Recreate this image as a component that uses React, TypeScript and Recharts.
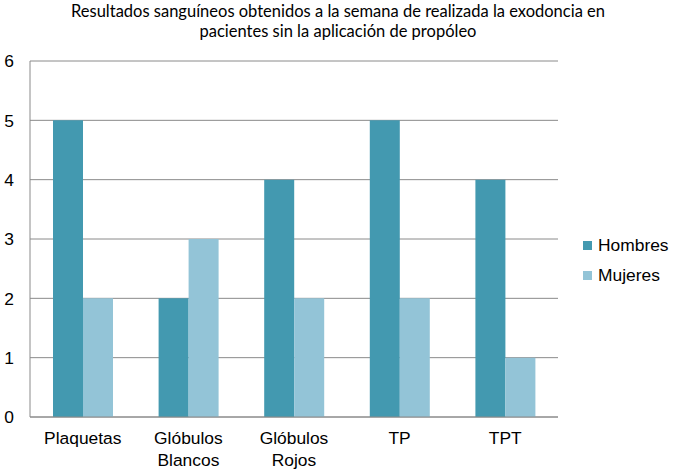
import { BarChart, Bar, XAxis, YAxis, CartesianGrid } from 'recharts'

const categories = ['Plaquetas', 'Glóbulos Blancos', 'Glóbulos Rojos', 'TP', 'TPT']
const hombres = [5, 2, 4, 5, 4]
const mujeres = [2, 3, 2, 2, 1]
const yTicks = [0, 1, 2, 3, 4, 5, 6]
const seriesNames = ['Hombres', 'Mujeres']

const COLORS = ['#4399b0', '#93c4d7']
const FONT = '"Liberation Sans", Arial, sans-serif'
const FS = 17.4

const data = categories.map((c, i) => ({ name: c, Hombres: hombres[i], Mujeres: mujeres[i] }))

function CategoryTick({ x, y, payload }: any) {
  const words = String(payload.value).split(' ')
  return (
    <text x={x} y={y} textAnchor="middle" fontFamily={FONT} fontSize={FS} fill="#000">
      {words.map((w, i) => (
        <tspan key={i} x={x} dy={i === 0 ? 19 : 22}>{w}</tspan>
      ))}
    </text>
  )
}

export default function App() {
  return (
    <div style={{ position: 'absolute', left: 0, top: 0, width: 673, height: 472, background: '#fff' }}>
      <div style={{
        position: 'absolute', left: 0, top: 1, width: 676, textAlign: 'center',
        fontFamily: 'Lato, sans-serif', fontSize: 16.5, lineHeight: '20px', color: '#000',
      }}>
        Resultados sanguíneos obtenidos a la semana de realizada la exodoncia en<br />
        pacientes sin la aplicación de propóleo
      </div>
      <div style={{ position: 'absolute', left: 583, top: 230, fontFamily: FONT, fontSize: FS, color: '#000' }}>
        {seriesNames.map((n, i) => (
          <div key={n} style={{ display: 'flex', alignItems: 'center', height: 30 }}>
            <span style={{ width: 9, height: 9, background: COLORS[i], marginRight: 6, display: 'inline-block' }} />
            <span>{n}</span>
          </div>
        ))}
      </div>
      <BarChart
        width={673}
        height={472}
        data={data}
        margin={{ top: 61, right: 115, bottom: 0, left: 0 }}
        barGap={0}
      >
        <CartesianGrid vertical={false} stroke="#8a8a8a" />
        <XAxis
          dataKey="name"
          height={55}
          tickLine={false}
          axisLine={{ stroke: '#8a8a8a' }}
          tick={<CategoryTick />}
          interval={0}
        />
        <YAxis
          width={30}
          domain={[0, 6]}
          ticks={yTicks}
          tickLine={false}
          tickMargin={10}
          axisLine={{ stroke: '#8a8a8a' }}
          tick={{ fontFamily: FONT, fontSize: FS, fill: '#000' }}
        />
        <Bar dataKey="Hombres" fill={COLORS[0]} barSize={30} isAnimationActive={false} />
        <Bar dataKey="Mujeres" fill={COLORS[1]} barSize={30} isAnimationActive={false} />
      </BarChart>
    </div>
  )
}
